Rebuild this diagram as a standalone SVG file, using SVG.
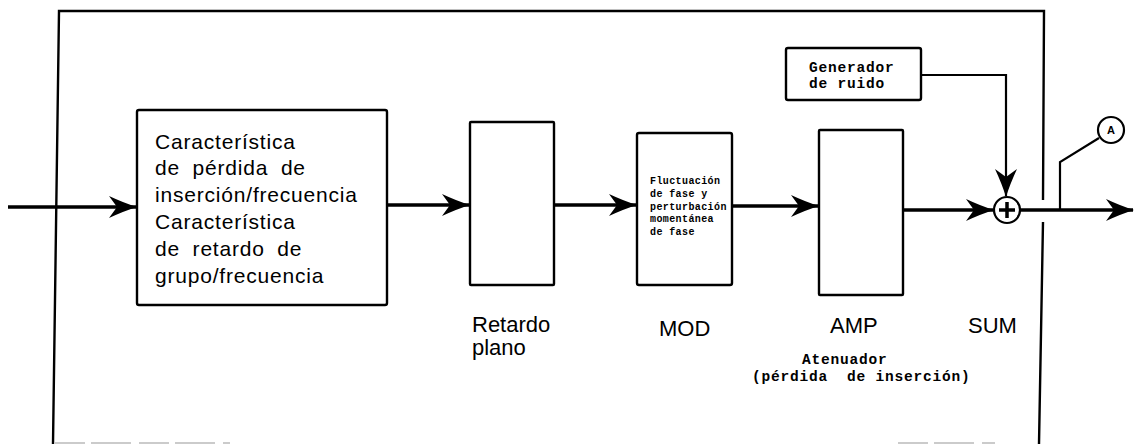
<svg xmlns="http://www.w3.org/2000/svg" width="1134" height="444" viewBox="0 0 1134 444">
<style>
.frame{fill:none;stroke:#000;stroke-width:2.4}
.box{fill:#fff;stroke:#000;stroke-width:2.4}
.sig{fill:none;stroke:#000;stroke-width:3.6}
.thin{fill:none;stroke:#000;stroke-width:2.2}
.lbl{font-family:"Liberation Sans",Arial,sans-serif;font-size:22px;fill:#000}
.big{font-family:"Liberation Sans",Arial,sans-serif;font-size:21px;letter-spacing:0.8px;fill:#000}
.mono{font-family:"Liberation Mono","DejaVu Sans Mono",monospace;font-weight:bold;font-size:14.5px;letter-spacing:0.8px;fill:#000}
.tiny{font-family:"Liberation Mono","DejaVu Sans Mono",monospace;font-weight:bold;font-size:10px;letter-spacing:0.4px;fill:#000}
</style>
<defs>
<marker id="ah" markerUnits="userSpaceOnUse" viewBox="-28 -12 30 24" refX="0" refY="0" markerWidth="30" markerHeight="24" orient="auto">
<path d="M1,0 Q-12,-4 -27,-11 L-19,0 L-27,11 Q-12,4 1,0 Z" fill="#000"/>
</marker>
</defs>
<rect width="1134" height="444" fill="#fff"/>
<g id="frame">
<path class="frame" d="M53,444 L59,11 L1044,11 L1043,200 M1043,222 L1039,444"/>
<path d="M55,443 H230 M898,443 H995" stroke="#bbb" stroke-width="1.5" stroke-dasharray="30,6,40,8" fill="none"/>
</g>
<g id="connectors">
<path class="sig" d="M8,207 H136" marker-end="url(#ah)"/>
<path class="sig" d="M388,205 H469" marker-end="url(#ah)"/>
<path class="sig" d="M555,205 H636" marker-end="url(#ah)"/>
<path class="sig" d="M733,206 H818" marker-end="url(#ah)"/>
<path class="sig" d="M904,210 H993" marker-end="url(#ah)"/>
<path class="sig" d="M1020,210 H1133" marker-end="url(#ah)"/>
<path class="thin" d="M921,75 H1006 V196" marker-end="url(#ah)"/>
<path class="thin" d="M1099,138 L1060,162 V209"/>
</g>
<g id="box-caracteristica">
<rect class="box" x="137" y="110" width="250" height="195" rx="2"/>
<text class="big" x="155" y="149">Característica</text>
<text class="big" x="155" y="175" word-spacing="6">de pérdida de</text>
<text class="big" x="155" y="202">inserción/frecuencia</text>
<text class="big" x="155" y="229">Característica</text>
<text class="big" x="155" y="256" word-spacing="6">de retardo de</text>
<text class="big" x="155" y="283">grupo/frecuencia</text>
</g>
<g id="box-retardo">
<rect class="box" x="470" y="122" width="84" height="163" rx="1"/>
<text class="lbl" x="472" y="332">Retardo</text>
<text class="lbl" x="472" y="355">plano</text>
</g>
<g id="box-mod">
<rect class="box" x="637" y="133" width="95" height="152" rx="2"/>
<text class="tiny" x="650" y="184">Fluctuación</text>
<text class="tiny" x="650" y="197">de fase y</text>
<text class="tiny" x="650" y="210">perturbación</text>
<text class="tiny" x="650" y="222">momentánea</text>
<text class="tiny" x="650" y="235">de fase</text>
<text class="lbl" x="659" y="336">MOD</text>
</g>
<g id="box-amp">
<rect class="box" x="819" y="130" width="84" height="165" rx="1"/>
<text class="lbl" x="830" y="333">AMP</text>
<text class="mono" x="802" y="364">Atenuador</text>
<text class="mono" x="752" y="381" xml:space="preserve">(pérdida  de inserción)</text>
</g>
<g id="box-generador">
<rect class="box" x="786" y="48" width="135" height="52" rx="2"/>
<text class="mono" x="809" y="72">Generador</text>
<text class="mono" x="809" y="88">de ruido</text>
</g>
<g id="sum">
<circle cx="1007" cy="210" r="13" fill="#fff" stroke="#000" stroke-width="2.2"/>
<path d="M999,210 H1015 M1007,202 V218" stroke="#000" stroke-width="3.5"/>
<text class="lbl" x="968" y="333">SUM</text>
</g>
<g id="point-a">
<circle cx="1111" cy="130" r="13" fill="#fff" stroke="#000" stroke-width="2.2"/>
<text x="1111" y="134" text-anchor="middle" font-family="Liberation Sans,Arial,sans-serif" font-weight="bold" font-size="11" fill="#000">A</text>
</g>
</svg>
